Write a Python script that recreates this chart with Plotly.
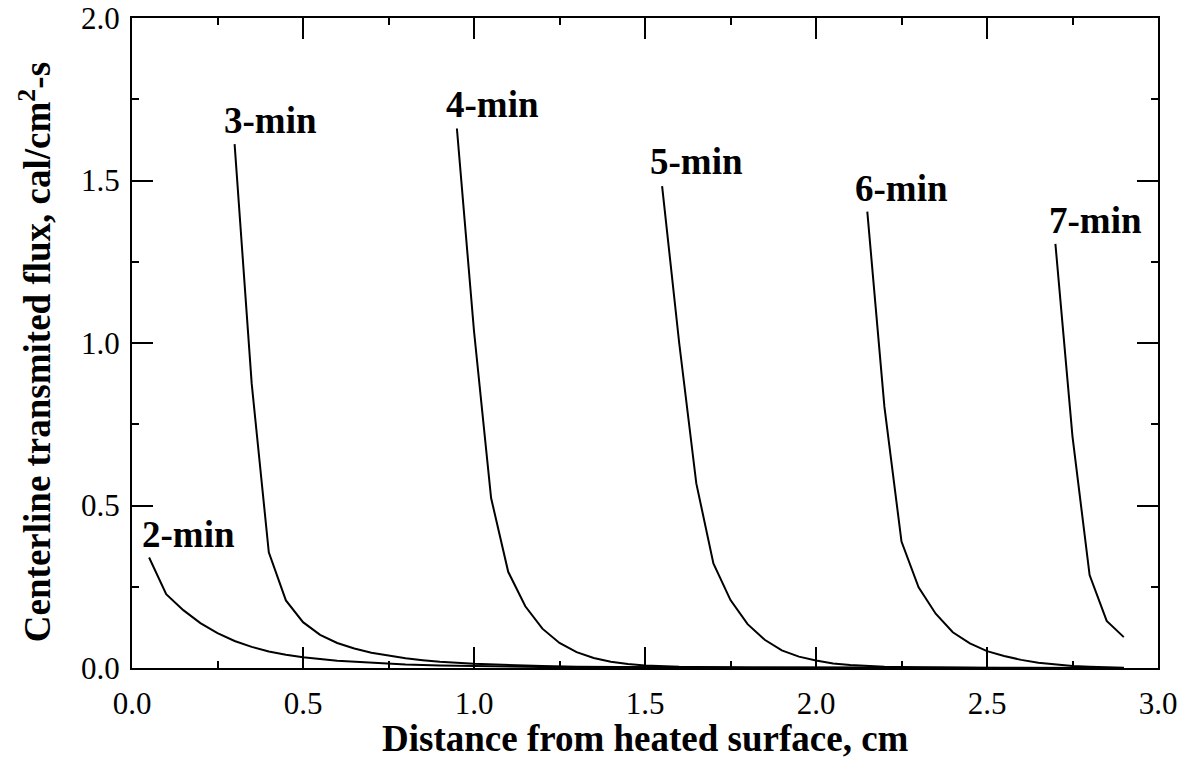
import plotly.graph_objects as go

# ---- data ----
x_2min = [0.05, 0.10, 0.15, 0.20, 0.25, 0.30, 0.35, 0.40, 0.45, 0.50, 0.60, 0.70, 0.80, 0.90, 1.00, 1.20, 1.40, 1.70, 2.00, 2.50, 2.90]
y_2min = [0.340, 0.227, 0.178, 0.138, 0.107, 0.083, 0.065, 0.051, 0.041, 0.033, 0.022, 0.016, 0.011, 0.008, 0.006, 0.003, 0.002, 0.001, 0.0005, 0.0002, 0.0001]

x_3min = [0.30, 0.35, 0.40, 0.45, 0.50, 0.55, 0.60, 0.65, 0.70, 0.75, 0.80, 0.85, 0.90, 1.00, 1.10, 1.20, 1.30, 1.40, 1.60, 1.80, 2.10, 2.50, 2.90]
y_3min = [1.612, 0.875, 0.356, 0.208, 0.141, 0.102, 0.077, 0.060, 0.047, 0.038, 0.030, 0.024, 0.019, 0.013, 0.009, 0.006, 0.004, 0.003, 0.0015, 0.001, 0.0005, 0.0002, 0.0001]

x_4min = [0.95, 1.00, 1.05, 1.10, 1.15, 1.20, 1.25, 1.30, 1.35, 1.40, 1.45, 1.50, 1.60, 1.70, 1.80, 2.00, 2.40, 2.90]
y_4min = [1.660, 1.037, 0.523, 0.296, 0.190, 0.121, 0.077, 0.049, 0.031, 0.019, 0.012, 0.008, 0.004, 0.002, 0.001, 0.0005, 0.0002, 0.0001]

x_5min = [1.55, 1.60, 1.65, 1.70, 1.75, 1.80, 1.85, 1.90, 1.95, 2.00, 2.05, 2.10, 2.20, 2.30, 2.50, 2.90]
y_5min = [1.483, 1.000, 0.568, 0.322, 0.209, 0.135, 0.087, 0.054, 0.035, 0.023, 0.014, 0.009, 0.004, 0.002, 0.0007, 0.0001]

x_6min = [2.15, 2.20, 2.25, 2.30, 2.35, 2.40, 2.45, 2.50, 2.55, 2.60, 2.65, 2.70, 2.75, 2.80, 2.85, 2.90]
y_6min = [1.404, 0.804, 0.389, 0.248, 0.167, 0.110, 0.076, 0.052, 0.037, 0.025, 0.016, 0.010, 0.006, 0.004, 0.002, 0.001]

x_7min = [2.70, 2.75, 2.80, 2.85, 2.90]
y_7min = [1.305, 0.712, 0.286, 0.145, 0.095]

curve_names = ["2-min", "3-min", "4-min", "5-min", "6-min", "7-min"]
label_x = [0.164, 0.404, 1.053, 1.652, 2.249, 2.816]
label_y = [0.410, 1.684, 1.734, 1.560, 1.474, 1.378]

x_tick_vals = [0.0, 0.5, 1.0, 1.5, 2.0, 2.5, 3.0]
x_tick_text = ["0.0", "0.5", "1.0", "1.5", "2.0", "2.5", "3.0"]
y_tick_vals = [0.0, 0.5, 1.0, 1.5, 2.0]
y_tick_text = ["0.0", "0.5", "1.0", "1.5", "2.0"]

x_title = "Distance from heated surface, cm"
y_title = "Centerline transmited flux, cal/cm<sup>2</sup>-s"

# ---- figure ----
FONT = "Liberation Serif, Times New Roman, serif"
series = [(x_2min, y_2min), (x_3min, y_3min), (x_4min, y_4min),
          (x_5min, y_5min), (x_6min, y_6min), (x_7min, y_7min)]

fig = go.Figure()
for name, (xs, ys) in zip(curve_names, series):
    fig.add_trace(go.Scatter(x=xs, y=ys, mode="lines", name=name,
                             line=dict(color="black", width=2),
                             showlegend=False))

for name, lx, ly in zip(curve_names, label_x, label_y):
    fig.add_annotation(x=lx, y=ly, xref="x", yref="y", text="<b>%s</b>" % name,
                       showarrow=False, xanchor="center", yanchor="middle",
                       font=dict(family=FONT, size=37, color="black"))

fig.add_annotation(x=0.5, y=-0.108, xref="paper", yref="paper",
                   text="<b>%s</b>" % x_title, showarrow=False,
                   xanchor="center", yanchor="middle",
                   font=dict(family=FONT, size=37, color="black"))
fig.add_annotation(x=-0.0945, y=0.486, xref="paper", yref="paper",
                   text="<b>%s</b>" % y_title, showarrow=False, textangle=-90,
                   xanchor="center", yanchor="middle",
                   font=dict(family=FONT, size=37, color="black"))

axis_common = dict(showgrid=False, zeroline=False, showline=True,
                   linecolor="black", linewidth=2, mirror="ticks",
                   ticks="inside", ticklen=21, tickwidth=2, tickcolor="black",
                   automargin=False,
                   tickfont=dict(family=FONT, size=31, color="black"))

fig.update_xaxes(range=[0, 3.0], tickvals=x_tick_vals, ticktext=x_tick_text,
                 ticklabelstandoff=7,
                 minor=dict(ticks="inside", ticklen=7, tickwidth=2,
                            tickcolor="black", dtick=0.25),
                 **axis_common)
fig.update_yaxes(range=[0, 2.0], tickvals=y_tick_vals, ticktext=y_tick_text,
                 ticklabelstandoff=4,
                 minor=dict(ticks="inside", ticklen=7, tickwidth=2,
                            tickcolor="black", dtick=0.25),
                 **axis_common)

fig.update_layout(width=1183, height=764,
                  margin=dict(l=132, r=25, t=18, b=96),
                  plot_bgcolor="white", paper_bgcolor="white",
                  font=dict(family=FONT, color="black"))

fig.write_html("out.html")
